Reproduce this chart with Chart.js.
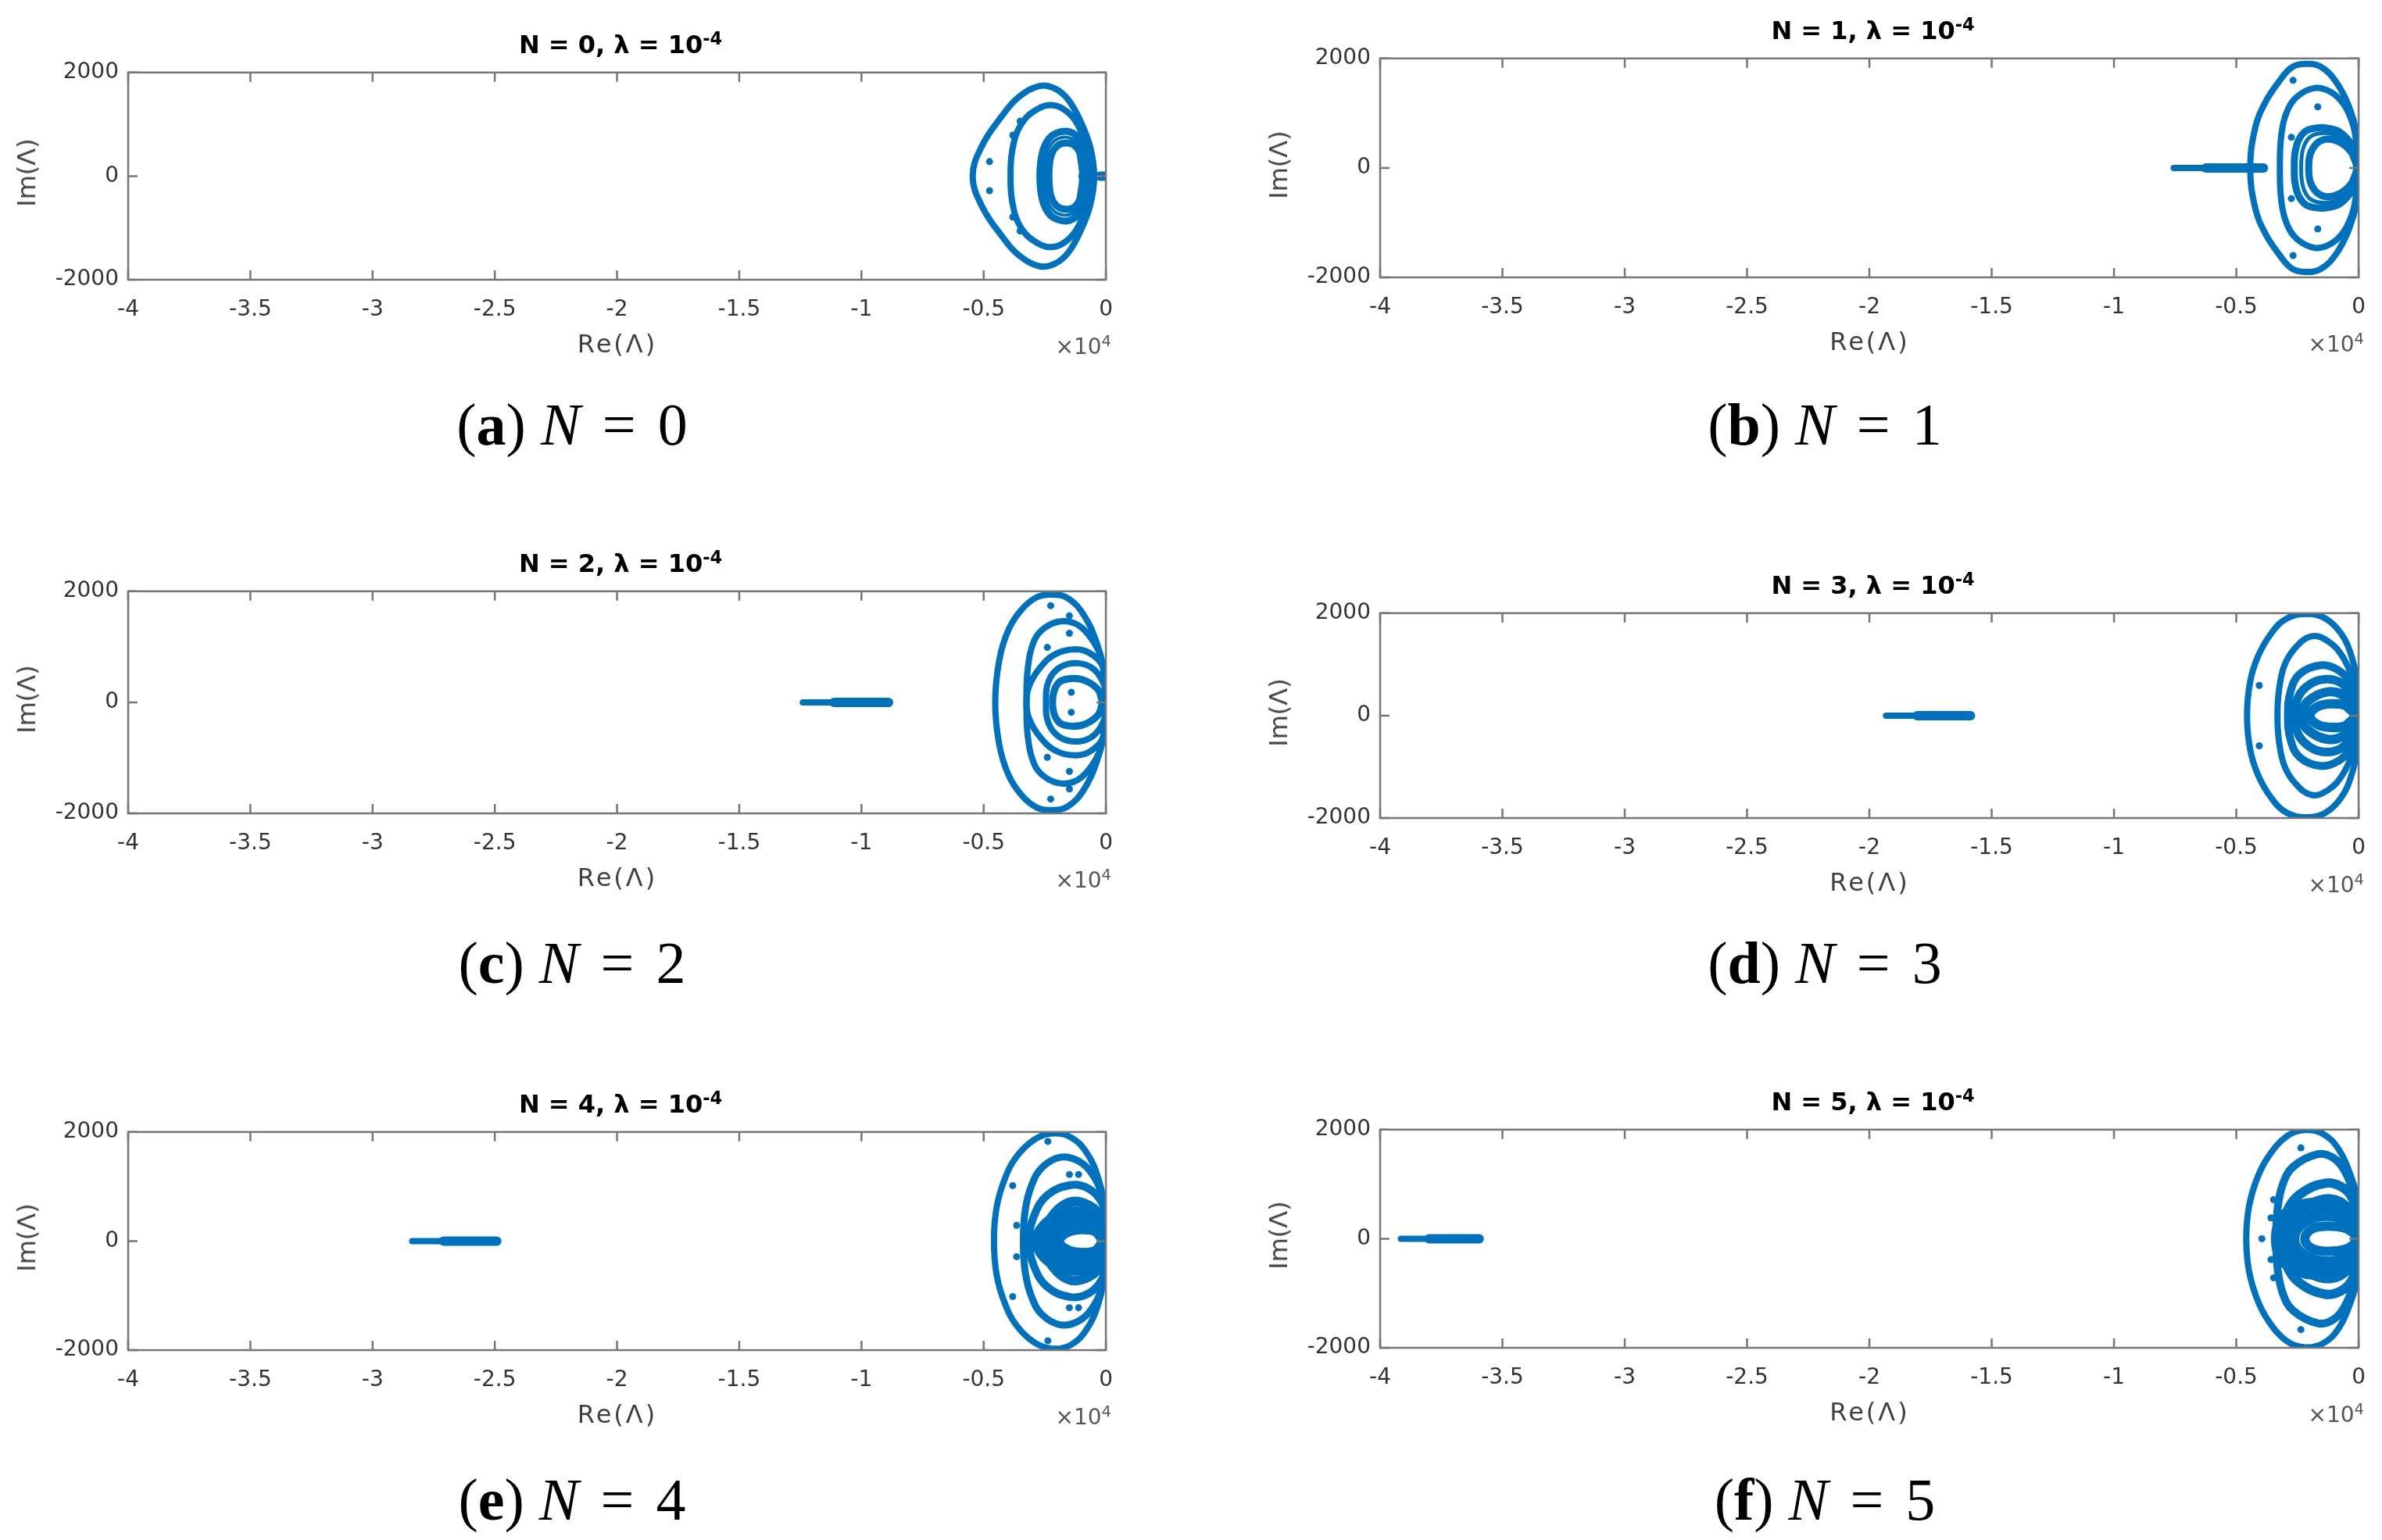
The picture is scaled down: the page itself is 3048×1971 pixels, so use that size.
<!DOCTYPE html>
<html lang="pt">
<head>
<meta charset="utf-8">
<title>Autovalores N = 0..5</title>
<script src="https://cdn.jsdelivr.net/npm/chart.js@4.4.1/dist/chart.umd.min.js"></script>
<style>
    body { margin: 0; width: 3048px; height: 1971px; background: #fff; position: relative; overflow: hidden; }
    canvas { position: absolute; }
    .titulo { position: absolute; transform: translate(-50%, -50%); font: bold 32px 'DejaVu Sans'; color: #000; white-space: nowrap; line-height: 1; }
    .sup { position: relative; top: -0.5em; font-size: 0.7em; }
    .rotulo-x { position: absolute; transform: translate(-50%, -50%); font: 32px 'DejaVu Sans'; color: #404040; letter-spacing: 3px; white-space: nowrap; line-height: 1; }
    .rotulo-y { position: absolute; transform: translate(-50%, -50%) rotate(-90deg); font: 32px 'DejaVu Sans'; color: #404040; white-space: nowrap; line-height: 1; }
    .expoente { position: absolute; transform: translate(-100%, -50%); font: 28px 'DejaVu Sans'; color: #555; white-space: nowrap; line-height: 1; }
    .legenda { position: absolute; transform: translate(-50%, -50%); font: 76px 'Liberation Serif'; color: #000; white-space: nowrap; line-height: 1; }
    .legenda .eq { margin: 0 0.12em; }
</style>
</head>
<body>
<script>
// eixos (Re em unidades reais, rotulados em x10^4)
const ticksX = [-40000, -35000, -30000, -25000, -20000, -15000, -10000, -5000, 0];
const ticksY = [-2000, 0, 2000];

// cada laço: metade superior, do ponto mais à esquerda até o mais à direita (a metade inferior é o conjugado)
const lacosA = [
    [[-5450, 0], [-5050, 600], [-4220, 1180], [-3580, 1520], [-2720, 1740], [-2080, 1690], [-1530, 1470], [-1020, 1040], [-640, 560], [-480, 0]],
    [[-3900, 0], [-3740, 700], [-3350, 1080], [-2810, 1290], [-2300, 1370], [-1760, 1300], [-1210, 1040], [-860, 600], [-700, 0]],
    [[-2700, 0], [-2600, 450], [-2320, 730], [-1900, 850], [-1450, 850], [-1050, 700], [-750, 430], [-600, 0]],
    [[-2330, 0], [-2250, 380], [-2000, 580], [-1650, 640], [-1300, 600], [-1050, 420], [-950, 0]],
    [[-2520, 0], [-2430, 420], [-2160, 660], [-1770, 750], [-1380, 720], [-1030, 560], [-800, 300], [-720, 0]]
];
const pontosA = [[-4760, 280], [-3810, 790], [-3510, 1060]];
const segmentoA = [-1000, -250, 0];

const lacosB = [
    [[-4430, 0], [-4220, 745], [-3800, 1210], [-3260, 1575], [-2740, 1835], [-2200, 1900], [-1560, 1850], [-925, 1575], [-390, 1115], [-75, 605], [0, 0]],
    [[-3220, 0], [-3160, 605], [-2940, 1020], [-2520, 1300], [-1790, 1460], [-1150, 1390], [-605, 1160], [-235, 795], [-75, 380], [0, 0]],
    [[-2630, 0], [-2530, 420], [-2200, 660], [-1700, 730], [-1250, 725], [-750, 650], [-300, 440], [-50, 200], [0, 0]],
    [[-2040, 0], [-1980, 250], [-1750, 430], [-1400, 520], [-1000, 510], [-600, 420], [-250, 250], [-80, 0]],
    [[-2350, 0], [-2270, 350], [-2000, 560], [-1600, 630], [-1150, 625], [-700, 540], [-300, 350], [-60, 0]]
];
const pontosB = [[-2680, 1600], [-1670, 1115], [-2750, 560]];
const segmentoB = [-7560, -6250, -3890];

const lacosC = [
    [[-4527, 0], [-4367, 749], [-3994, 1299], [-3460, 1666], [-2821, 1895], [-2182, 1941], [-1544, 1872], [-905, 1574], [-373, 1069], [-54, 520], [0, 0]],
    [[-3248, 0], [-3195, 612], [-2929, 1116], [-2502, 1344], [-1864, 1460], [-1225, 1413], [-693, 1207], [-266, 886], [-54, 474], [0, 0]],
    [[-3250, 0], [-3142, 291], [-2716, 612], [-2077, 866], [-1225, 955], [-585, 866], [-107, 612], [0, 0]],
    [[-2450, 0], [-2342, 382], [-1864, 635], [-1118, 704], [-479, 589], [-54, 291], [0, 0]],
    [[-2182, 0], [-1970, 337], [-1438, 429], [-799, 382], [-266, 199], [-160, 0]]
];
const pontosC = [[-2258, 1742], [-1492, 1560], [-1492, 1244], [-2396, 990], [-1416, 180]];
const segmentoC = [-12400, -11125, -8890];

const lacosD = [
    [[-4561, 0], [-4434, 662], [-4115, 1155], [-3583, 1599], [-2945, 1895], [-2095, 1985], [-1350, 1895], [-712, 1599], [-287, 1155], [-21, 562], [0, 0]],
    [[-3317, 0], [-3264, 465], [-3052, 957], [-2626, 1303], [-1936, 1549], [-1244, 1451], [-659, 1155], [-234, 712], [-21, 313], [0, 0]],
    [[-2892, 0], [-2786, 465], [-2414, 810], [-1563, 983], [-819, 884], [-287, 613], [-21, 269], [0, 0]],
    [[-2626, 0], [-2467, 367], [-1988, 613], [-1350, 712], [-712, 638], [-234, 367], [0, 0]],
    [[-2307, 0], [-2095, 269], [-1244, 465], [-500, 367], [-74, 170], [0, 0]],
    [[-1988, 0], [-1700, 170], [-1138, 230], [-500, 190], [-181, 0]]
];
const pontosD = [[-4062, 589]];
const segmentoD = [-19320, -18044, -15864];

const lacosE = [
    [[-4579, 0], [-4473, 610], [-4153, 1119], [-3674, 1536], [-2929, 1859], [-2183, 1974], [-1438, 1905], [-799, 1628], [-319, 1165], [-54, 610], [0, 0]],
    [[-3376, 0], [-3301, 564], [-3035, 1027], [-2610, 1350], [-1864, 1536], [-1118, 1466], [-533, 1211], [-160, 842], [-54, 425], [0, 0]],
    [[-3142, 0], [-2929, 472], [-2396, 842], [-1438, 1027], [-693, 957], [-160, 703], [0, 379], [0, 0]],
    [[-2610, 0], [-2396, 333], [-1544, 703], [-693, 656], [-107, 379], [-20, 0]],
    [[-2800, 0], [-2500, 280], [-1800, 480], [-1118, 518], [-400, 430], [-50, 220], [0, 0]],
    [[-2300, 0], [-2000, 200], [-1118, 333], [-400, 280], [-100, 130], [-30, 0]],
    [[-1900, 0], [-1600, 150], [-1012, 210], [-400, 170], [-160, 0]]
];
const pontosE = [[-2374, 1827], [-3812, 1017], [-3652, 287], [-1492, 1221], [-1118, 1221]];
const segmentoE = [-28380, -27100, -24920];

const lacosF = [
    [[-4593, 0], [-4487, 577], [-4168, 1087], [-3690, 1505], [-2945, 1875], [-2201, 1992], [-1457, 1922], [-819, 1644], [-340, 1180], [-21, 670], [0, 0]],
    [[-3370, 0], [-3317, 531], [-3105, 994], [-2679, 1318], [-1669, 1551], [-1031, 1481], [-553, 1226], [-181, 809], [0, 392], [0, 0]],
    [[-3158, 0], [-2945, 484], [-2414, 809], [-1350, 1018], [-606, 925], [-181, 670], [0, 315], [0, 0]],
    [[-2839, 0], [-2626, 392], [-1988, 623], [-1138, 716], [-500, 577], [-21, 300], [0, 0]],
    [[-2680, 0], [-2307, 300], [-1350, 438], [-500, 346], [0, 0]],
    [[-3300, 0], [-3100, 350], [-2500, 560], [-1700, 620], [-900, 560], [-300, 400], [0, 0]],
    [[-2200, 0], [-1900, 180], [-1300, 230], [-600, 200], [-200, 100], [-100, 0]]
];
const pontosF = [[-2360, 1666], [-3477, 716], [-3583, 382], [-3955, 0], [-2733, 1296]];
const segmentoF = [-39150, -38000, -35950];

// posição de cada painel na página (área dos eixos) e espessura dos traços
const paineis = [
    { letra: 'a', n: 0, L: 164, R: 1416, T: 84, B: 358, legX: 732, legY: 543, lacos: lacosA, larguras: [8, 8, 9, 9, 4], pontos: pontosA, segmento: segmentoA },
    { letra: 'b', n: 1, L: 1766, R: 3019, T: 66, B: 355, legX: 2335, legY: 543, lacos: lacosB, larguras: [8, 8, 9, 9, 5], pontos: pontosB, segmento: segmentoB },
    { letra: 'c', n: 2, L: 164, R: 1416, T: 748, B: 1041, legX: 732, legY: 1232, lacos: lacosC, larguras: [8, 8, 8, 8, 9], pontos: pontosC, segmento: segmentoC },
    { letra: 'd', n: 3, L: 1766, R: 3019, T: 776, B: 1047, legX: 2335, legY: 1232, lacos: lacosD, larguras: [8, 8, 10, 11, 12, 12], pontos: pontosD, segmento: segmentoD },
    { letra: 'e', n: 4, L: 164, R: 1416, T: 1440, B: 1728, legX: 732, legY: 1919, lacos: lacosE, larguras: [8, 9, 10, 12, 16, 16, 12], pontos: pontosE, segmento: segmentoE },
    { letra: 'f', n: 5, L: 1766, R: 3019, T: 1437, B: 1725, legX: 2335, legY: 1919, lacos: lacosF, larguras: [8, 10, 12, 14, 16, 18, 12], pontos: pontosF, segmento: segmentoF }
];

const AZUL = '#0072BD';
const MARGEM_ESQ = 140, MARGEM_DIR = 30, MARGEM_TOPO = 20, MARGEM_BAIXO = 70;

// fecha o laço com o conjugado; começa e termina no vizinho do ponto da direita para não quebrar a curva
function fecharLaco(metade) {
    const sup = metade.map(([x, y]) => ({ x: x, y: y }));
    const inf = metade.map(([x, y]) => ({ x: x, y: -y }));
    const n = sup.length;
    const volta = [...sup.slice().reverse(), ...inf.slice(1)];
    return [inf[n - 2], ...volta, sup[n - 2]];
}

function conjugados(pontos) {
    const lista = [];
    pontos.forEach(([x, y]) => {
        lista.push({ x: x, y: y });
        if (y !== 0) lista.push({ x: x, y: -y });
    });
    return lista;
}

// moldura estilo MATLAB: caixa fechada com marcas para dentro nos quatro lados
const caixaMatlab = {
    id: 'caixaMatlab',
    afterDatasetsDraw(chart) {
        const { ctx, chartArea: a, scales: { x, y } } = chart;
        const m = 12;
        ctx.save();
        ctx.strokeStyle = '#767676';
        ctx.lineWidth = 2.5;
        ctx.strokeRect(a.left, a.top, a.right - a.left, a.bottom - a.top);
        ctx.beginPath();
        x.ticks.forEach(t => {
            const px = x.getPixelForValue(t.value);
            ctx.moveTo(px, a.bottom); ctx.lineTo(px, a.bottom - m);
            ctx.moveTo(px, a.top); ctx.lineTo(px, a.top + m);
        });
        y.ticks.forEach(t => {
            const py = y.getPixelForValue(t.value);
            ctx.moveTo(a.left, py); ctx.lineTo(a.left + m, py);
            ctx.moveTo(a.right, py); ctx.lineTo(a.right - m, py);
        });
        ctx.stroke();
        ctx.restore();
    }
};

function montarDatasets(p) {
    const ds = [];
    p.lacos.forEach((laco, i) => {
        ds.push({
            data: fecharLaco(laco),
            showLine: true,
            borderColor: AZUL,
            borderWidth: p.larguras[i],
            pointRadius: 0,
            tension: 0.4,
            fill: false
        });
    });
    const [ini, iniGrosso, fim] = p.segmento;
    ds.push({
        data: [{ x: ini, y: 0 }, { x: fim, y: 0 }],
        showLine: true, borderColor: AZUL, borderWidth: 8, borderCapStyle: 'round', pointRadius: 0
    });
    ds.push({
        data: [{ x: iniGrosso, y: 0 }, { x: fim, y: 0 }],
        showLine: true, borderColor: AZUL, borderWidth: 12, borderCapStyle: 'round', pointRadius: 0
    });
    ds.push({
        data: conjugados(p.pontos),
        showLine: false,
        pointRadius: 4.5,
        pointBackgroundColor: AZUL,
        pointBorderWidth: 0
    });
    return ds;
}

const fonteTicks = { family: 'DejaVu Sans', size: 28 };

function criarPainel(p) {
    const canvas = document.createElement('canvas');
    const largura = p.R - p.L + MARGEM_ESQ + MARGEM_DIR;
    const altura = p.B - p.T + MARGEM_TOPO + MARGEM_BAIXO;
    canvas.width = largura;
    canvas.height = altura;
    canvas.style.left = (p.L - MARGEM_ESQ) + 'px';
    canvas.style.top = (p.T - MARGEM_TOPO) + 'px';
    canvas.style.width = largura + 'px';
    canvas.style.height = altura + 'px';
    document.body.appendChild(canvas);

    new Chart(canvas, {
        type: 'scatter',
        data: { datasets: montarDatasets(p) },
        options: {
            responsive: false,
            animation: false,
            devicePixelRatio: 1,
            layout: { padding: { left: 0, right: MARGEM_DIR, top: MARGEM_TOPO, bottom: 0 } },
            plugins: { legend: { display: false }, tooltip: { enabled: false } },
            scales: {
                x: {
                    type: 'linear',
                    min: ticksX[0],
                    max: ticksX[ticksX.length - 1],
                    afterBuildTicks: s => { s.ticks = ticksX.map(v => ({ value: v })); },
                    afterFit: s => { s.height = MARGEM_BAIXO; },
                    grid: { display: false, drawTicks: false },
                    border: { display: false },
                    ticks: {
                        autoSkip: false, maxRotation: 0, padding: 22,
                        font: fonteTicks, color: '#333',
                        callback: v => String(v / 10000)
                    }
                },
                y: {
                    type: 'linear',
                    min: ticksY[0],
                    max: ticksY[ticksY.length - 1],
                    afterBuildTicks: s => { s.ticks = ticksY.map(v => ({ value: v })); },
                    afterFit: s => { s.width = MARGEM_ESQ; },
                    grid: { display: false, drawTicks: false },
                    border: { display: false },
                    ticks: {
                        autoSkip: false, padding: 12,
                        font: fonteTicks, color: '#333',
                        callback: v => String(v)
                    }
                }
            }
        },
        plugins: [caixaMatlab]
    });

    const centro = (p.L + p.R) / 2;
    adicionarTexto('titulo', centro + 4, p.T - 27,
        `N = ${p.n}, λ = 10<span class="sup">-4</span>`);
    adicionarTexto('rotulo-x', centro, p.B + 82, 'Re(Λ)');
    adicionarTexto('rotulo-y', p.L - 130, (p.T + p.B) / 2, 'Im(Λ)');
    adicionarTexto('expoente', p.R + 6, p.B + 86, '×10<span class="sup">4</span>');
    adicionarTexto('legenda', p.legX, p.legY,
        `(<b>${p.letra}</b>) <i>N</i><span class="eq"> = </span>${p.n}`);
}

function adicionarTexto(classe, x, y, html) {
    const div = document.createElement('div');
    div.className = classe;
    div.style.left = x + 'px';
    div.style.top = y + 'px';
    div.innerHTML = html;
    document.body.appendChild(div);
}

try {
    paineis.forEach(criarPainel);
} catch (erro) {
    console.log('ERRO AO DESENHAR PAINÉIS', erro);
}
</script>
</body>
</html>
